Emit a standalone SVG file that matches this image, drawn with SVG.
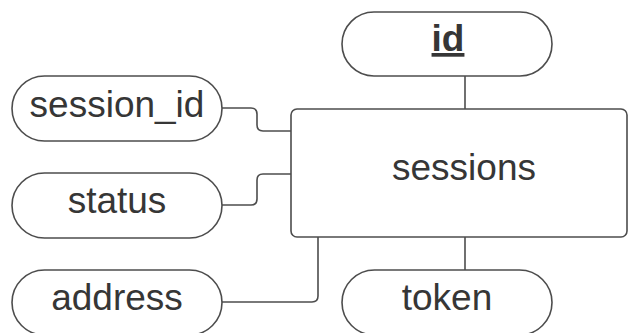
<svg xmlns="http://www.w3.org/2000/svg" width="628" height="333" viewBox="0 0 628 333">
  <style>
    .shape { fill: #ffffff; stroke: #4d4d4d; stroke-width: 1.6; }
    .edge { fill: none; stroke: #4d4d4d; stroke-width: 1.6; }
    .label { font-family: "Liberation Sans", Arial, sans-serif; font-size: 37px; fill: #363636; text-anchor: middle; }
    .key { font-weight: bold; text-decoration: underline; }
  </style>
  <rect width="628" height="333" fill="#ffffff"/>

  <!-- connectors between the entity and its attributes -->
  <g id="connectors">
    <path class="edge" d="M222,108 H251 Q257,108 257,114 V125 Q257,131 263,131 H291"/>
    <path class="edge" d="M222,205 H251 Q257,205 257,199 V180 Q257,174 263,174 H291"/>
    <path class="edge" d="M222,302 H312 Q318,302 318,296 V237"/>
    <path class="edge" d="M465,76 V109"/>
    <path class="edge" d="M465,237 V270"/>
  </g>

  <!-- entity -->
  <g id="sessions">
    <rect class="shape" x="291" y="109" width="336" height="128" rx="6"/>
    <text class="label" x="464" y="180">sessions</text>
  </g>

  <!-- attributes -->
  <g id="attr-id">
    <rect class="shape" x="342" y="12" width="210" height="64" rx="32"/>
    <text class="label key" x="448" y="51">id</text>
  </g>
  <g id="attr-session_id">
    <rect class="shape" x="12" y="76" width="210" height="65" rx="32.5"/>
    <text class="label" x="117" y="117">session_id</text>
  </g>
  <g id="attr-status">
    <rect class="shape" x="12" y="173" width="210" height="65" rx="32.5"/>
    <text class="label" x="117" y="213">status</text>
  </g>
  <g id="attr-address">
    <rect class="shape" x="12" y="270" width="210" height="65" rx="32.5"/>
    <text class="label" x="117" y="310">address</text>
  </g>
  <g id="attr-token">
    <rect class="shape" x="342" y="270" width="210" height="65" rx="32.5"/>
    <text class="label" x="447" y="310">token</text>
  </g>
</svg>
